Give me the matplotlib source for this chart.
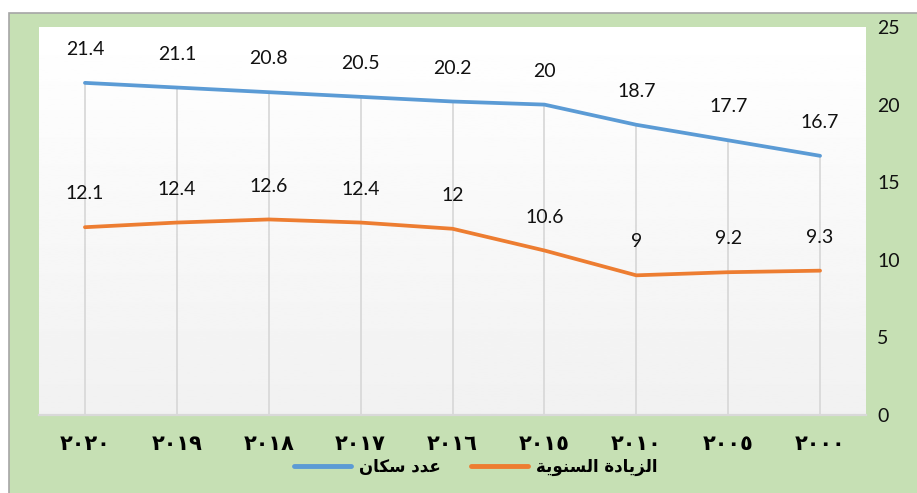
import numpy as np
import matplotlib
matplotlib.use("Agg")
import matplotlib.pyplot as plt
from matplotlib.patches import Rectangle
from matplotlib.lines import Line2D

years = ["٢٠٢٠", "٢٠١٩", "٢٠١٨", "٢٠١٧", "٢٠١٦", "٢٠١٥", "٢٠١٠", "٢٠٠٥", "٢٠٠٠"]
population = [21.4, 21.1, 20.8, 20.5, 20.2, 20, 18.7, 17.7, 16.7]
annual_increase = [12.1, 12.4, 12.6, 12.4, 12, 10.6, 9, 9.2, 9.3]
pop_label = "عدد سكان"
inc_label = "الزيادة السنوية"

BLUE = "#5B9BD5"
ORANGE = "#ED7D31"
GREEN = "#C6E0B4"
GRID = "#D9D9D9"

# matplotlib has no arabic shaping, so pick presentation forms by hand
# (isolated, final, initial, medial)
FORMS = {
    "ا": ("\uFE8D", "\uFE8E", None, None),
    "ل": ("\uFEDD", "\uFEDE", "\uFEDF", "\uFEE0"),
    "ز": ("\uFEAF", "\uFEB0", None, None),
    "ي": ("\uFEF1", "\uFEF2", "\uFEF3", "\uFEF4"),
    "د": ("\uFEA9", "\uFEAA", None, None),
    "ة": ("\uFE93", "\uFE94", None, None),
    "س": ("\uFEB1", "\uFEB2", "\uFEB3", "\uFEB4"),
    "ن": ("\uFEE5", "\uFEE6", "\uFEE7", "\uFEE8"),
    "و": ("\uFEED", "\uFEEE", None, None),
    "ع": ("\uFEC9", "\uFECA", "\uFECB", "\uFECC"),
    "ك": ("\uFED9", "\uFEDA", "\uFEDB", "\uFEDC"),
}


def shape(text):
    out = []
    for i, ch in enumerate(text):
        if ch not in FORMS:
            out.append(ch)
            continue
        iso, fin, ini, med = FORMS[ch]
        prev = text[i - 1] if i > 0 else ""
        nxt = text[i + 1] if i < len(text) - 1 else ""
        prev_joins = prev in FORMS and FORMS[prev][2] is not None
        next_joins = nxt in FORMS and ini is not None
        if prev_joins and next_joins:
            out.append(med)
        elif prev_joins:
            out.append(fin)
        elif next_joins:
            out.append(ini)
        else:
            out.append(iso)
    return "".join(out)[::-1]


fig = plt.figure(figsize=(9.17, 4.93), dpi=100)
fig.patch.set_facecolor("white")

# green chart area with grey border
fig.patches.append(Rectangle((9 / 917, -0.01), 1.0, (493 - 13) / 493 + 0.01,
                             transform=fig.transFigure, facecolor=GREEN,
                             edgecolor="#A6A6A6", linewidth=1.2, zorder=0))

ax = fig.add_axes([39 / 917, 1 - 415 / 493, (866 - 39) / 917, (415 - 27) / 493])
ax.set_zorder(1)

# plot area: white fading to light grey
grad = np.linspace(1.0, 0.945, 256).reshape(-1, 1)
ax.imshow(grad, extent=[0, 1, 0, 1], transform=ax.transAxes, cmap="gray",
          vmin=0, vmax=1, aspect="auto", zorder=0)

x = np.arange(len(years))
ax.vlines(x, 0, population, color=GRID, linewidth=1.3, zorder=1)
ax.plot(x, population, color=BLUE, linewidth=2.7, solid_capstyle="round", zorder=3)
ax.plot(x, annual_increase, color=ORANGE, linewidth=2.7, solid_capstyle="round", zorder=3)

for xi, v in zip(x, population):
    ax.annotate(f"{v:g}", (xi, v), xytext=(0, 24), textcoords="offset points",
                ha="center", va="center", fontsize=14, family="Lato", color="#111111")
for xi, v in zip(x, annual_increase):
    ax.annotate(f"{v:g}", (xi, v), xytext=(0, 24), textcoords="offset points",
                ha="center", va="center", fontsize=14, family="Lato", color="#111111")

ax.set_xlim(-0.5, len(years) - 0.5)
ax.set_ylim(0, 25)
ax.set_yticks([0, 5, 10, 15, 20, 25])
ax.yaxis.tick_right()
ax.tick_params(axis="y", length=0, pad=8, labelsize=14, labelcolor="#111111")
for lab in ax.get_yticklabels():
    lab.set_family("Lato")
ax.set_xticks(x)
ax.set_xticklabels(years, family="DejaVu Sans", fontweight="bold", fontsize=15)
ax.tick_params(axis="x", length=0, pad=14)

for side in ["top", "left", "right"]:
    ax.spines[side].set_visible(False)
ax.spines["bottom"].set_color(GRID)
ax.spines["bottom"].set_linewidth(1.6)

handles = [Line2D([], [], color=BLUE, linewidth=3.5, solid_capstyle="round"),
           Line2D([], [], color=ORANGE, linewidth=3.5, solid_capstyle="round")]
leg = fig.legend(handles, [shape(pop_label), shape(inc_label)], loc="center",
                 bbox_to_anchor=(476 / 917, 1 - 467 / 493), ncol=2, frameon=False,
                 handlelength=3.4, handletextpad=0.5, columnspacing=1.8,
                 prop={"family": "DejaVu Sans", "weight": "bold", "size": 12})

fig.savefig("out.png", dpi=100)
